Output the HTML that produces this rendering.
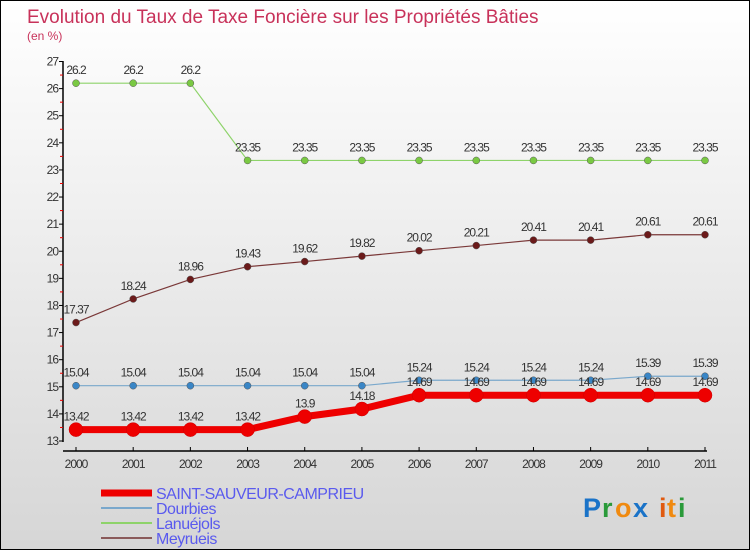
<!DOCTYPE html>
<html><head><meta charset="utf-8"><style>
html,body{margin:0;padding:0}
body{width:750px;height:550px;overflow:hidden;font-family:"Liberation Sans",sans-serif}
#c{position:absolute;left:0;top:0;width:748px;height:548px;border:1px solid #000;background:linear-gradient(#ffffff,#d6d6d6)}
</style></head><body>
<div id="c">
<svg id="s" width="748" height="548" xmlns="http://www.w3.org/2000/svg">
<text x="26" y="22" font-size="19" fill="#c8325a">Evolution du Taux de Taxe Foncière sur les Propriétés Bâties</text>
<text x="26" y="39" font-size="12" fill="#c8325a">(en %)</text>
<g id="axes"></g><g id="series"></g><g id="legend"></g>
<g font-size="27" font-weight="bold">
<text x="582" y="516" fill="#1a73c8">P</text><text x="601" y="516" fill="#2a9a3a">r</text><text x="614" y="516" fill="#f08a10">o</text><text x="632" y="516" fill="#1a73c8">x</text><text x="658" y="516" fill="#e05a10">i</text><text x="666" y="516" fill="#f08a10">t</text><text x="677" y="516" fill="#2a9a3a">i</text>
</g>
</svg></div>
<script>
const years=["2000","2001","2002","2003","2004","2005","2006","2007","2008","2009","2010","2011"];
const yTicks=[13,14,15,16,17,18,19,20,21,22,23,24,25,26,27];
const saint=[13.42,13.42,13.42,13.42,13.9,14.18,14.69,14.69,14.69,14.69,14.69,14.69];
const dourbies=[15.04,15.04,15.04,15.04,15.04,15.04,15.24,15.24,15.24,15.24,15.39,15.39];
const lanuejols=[26.2,26.2,26.2,23.35,23.35,23.35,23.35,23.35,23.35,23.35,23.35,23.35];
const meyrueis=[17.37,18.24,18.96,19.43,19.62,19.82,20.02,20.21,20.41,20.41,20.61,20.61];
const names=["SAINT-SAUVEUR-CAMPRIEU","Dourbies","Lanuéjols","Meyrueis"];
const NS="http://www.w3.org/2000/svg";
function X(i){return 75+i*(704-75)/(years.length-1);}
function Y(v){return 440-(v-13)*(440-60.5)/14;}
function mk(tag,attrs,parent,txt){const e=document.createElementNS(NS,tag);for(const k in attrs)e.setAttribute(k,attrs[k]);if(txt!==undefined)e.textContent=txt;parent.appendChild(e);return e;}
const ax=document.getElementById('axes');
let e=mk('line',{x1:62,y1:60,x2:62,y2:441,stroke:'#000','stroke-width':1.5},ax);

e=mk('line',{x1:62,y1:450,x2:706,y2:450,stroke:'#000','stroke-width':1.5},ax);

yTicks.forEach((t,i)=>{const y=Y(t);
 mk('line',{x1:58,y1:y,x2:62,y2:y,stroke:'#000'},ax);
 if(i<yTicks.length-1){const ym=Y(t+0.5);mk('line',{x1:59,y1:ym,x2:62,y2:ym,stroke:'#e00'},ax);}
 e=mk('text',{x:57,y:y+4,'font-size':12,fill:'#333','text-anchor':'end','letter-spacing':'-1'},ax,String(t));
 });
years.forEach((yr,i)=>{const x=X(i);mk('line',{x1:x,y1:446,x2:x,y2:450,stroke:'#000'},ax);
 e=mk('text',{x:x,y:467,'font-size':12,fill:'#333','text-anchor':'middle','letter-spacing':'-1'},ax,yr);
 });
const sg=document.getElementById('series');
const defs=[[lanuejols,'#8ed36a','#7ac943',1.2,3.5,'lanuejols'],[meyrueis,'#7a3838','#6b1a1a',1.2,3.5,'meyrueis'],[dourbies,'#7aa8cc','#3a86c6',1.2,3.5,'dourbies'],[saint,'#ee0000','#ee0000',7,7,'saint-sauveur-camprieu']];
defs.forEach(([d,lc,pc,w,r,nm])=>{const g=mk('g',{},sg);
 
 e=mk('polyline',{points:d.map((v,i)=>X(i)+','+Y(v)).join(' '),fill:'none',stroke:lc,'stroke-width':w},g);
 
 d.forEach((v,i)=>{e=mk('circle',{cx:X(i),cy:Y(v),r:r,fill:pc,stroke:nm==='saint-sauveur-camprieu'?'#c00':'#555','stroke-width':0.5},g);
  
  e=mk('text',{x:X(i),y:Y(v)-9,'font-size':12,fill:'#333','text-anchor':'middle','letter-spacing':'-1'},g,String(v));
  });
});
const lg=document.getElementById('legend');
const lcol=['#ee0000','#7aa8cc','#8ed36a','#8a5a5a'],lw=[7,2,2,2],ly=[492,507,522,537];
names.forEach((n,i)=>{const g=mk('g',{},lg);
 mk('line',{x1:100,y1:ly[i],x2:151,y2:ly[i],stroke:lcol[i],'stroke-width':lw[i]},g);
 mk('text',{x:155,y:ly[i]+6,'font-size':16,fill:'#5a5aee','letter-spacing':'-0.5'},g,n);});
</script>
</body></html>
